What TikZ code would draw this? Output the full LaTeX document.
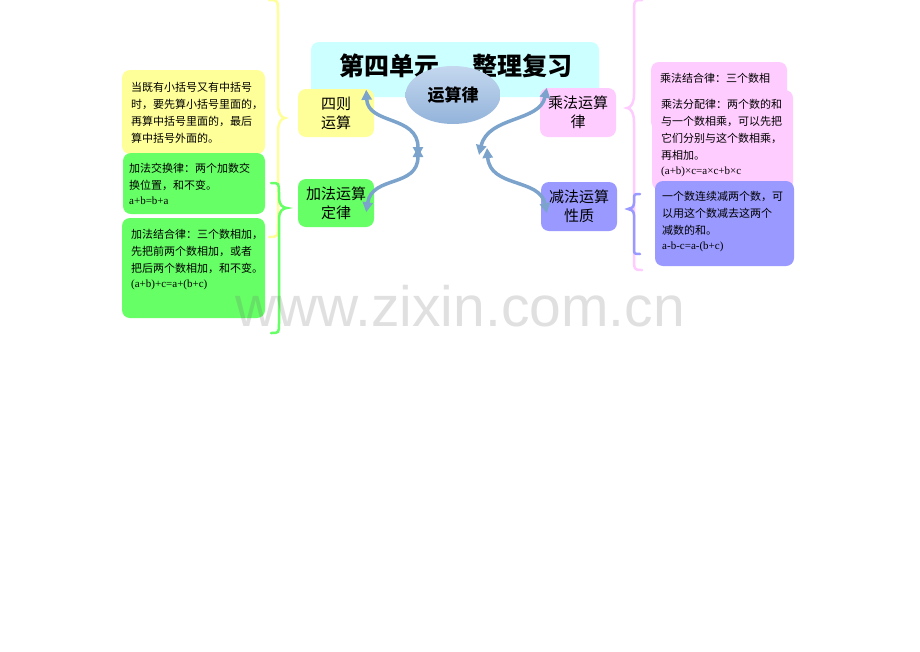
\documentclass[tikz,border=0pt]{standalone}
\usepackage{fontspec}
\setmainfont{Liberation Serif}
\newfontfamily\cjk{Noto Sans CJK SC}
\newfontfamily\wmfont{Liberation Sans}
\usetikzlibrary{arrows.meta,shapes.geometric}
\XeTeXlinebreaklocale "zh"
\XeTeXlinebreakskip=0pt plus 1fil
\definecolor{cyanbox}{HTML}{CCFFFF}
\definecolor{ybox}{HTML}{FFFF99}
\definecolor{gbox}{HTML}{66FF66}
\definecolor{pbox}{HTML}{FFCCFF}
\definecolor{vbox}{HTML}{9999FF}
\definecolor{linkc}{HTML}{7BA3CB}
\definecolor{elltop}{HTML}{C4D8EF}
\definecolor{ellbot}{HTML}{93B3DA}
\newcommand\jnode[5]{\node[txt] (#1) at (#2,#3) {\makebox[#4pt][s]{#5}};}
\newcommand\pnode[4]{\node[txt] (#1) at (#2,#3) {#4};}
\newcommand\lnode[4]{\node[lat] (#1) at (#2,#3) {#4};}
\newcommand\bracepath[8]{%
  \draw[bracestyle,draw=#1] (#2,#5) .. controls (#3,#5) and (#3,#5) .. (#3,{#5+#8})
    -- (#3,{#6-#8}) .. controls (#3,{#6-#8/3}) and ({(#3+#4)/2},#6) .. (#4,#6)
    .. controls ({(#3+#4)/2},#6) and (#3,{#6+#8/3}) .. (#3,{#6+#8})
    -- (#3,{#7-#8}) .. controls (#3,#7) and (#3,#7) .. (#2,#7);}
\tikzset{
  boxstyle/.style={rounded corners=8pt, draw=none, inner sep=0pt},
  head/.style={font=\cjk\fontsize{15}{19}\selectfont, align=center, inner sep=0pt},
  txt/.style={anchor=west, inner sep=0pt, font=\cjk\fontsize{11}{13}\selectfont},
  lat/.style={anchor=west, inner sep=0pt, font=\fontsize{11}{13}\selectfont},
  link/.style={draw=linkc, line width=3.5pt, {Triangle[length=10pt,width=10pt]}-{Triangle[length=10pt,width=10pt]}},
  bracestyle/.style={line width=2.5pt, line cap=round},
}
\begin{document}
\begin{tikzpicture}[x=1pt,y=-1pt]
\useasboundingbox[fill=white] (0,0) rectangle (920,651);
% braces
\bracepath{ybox}{269}{278}{285}{0}{118}{237}{14}
\bracepath{gbox}{271}{279}{287}{183}{208}{333}{10}
\bracepath{pbox}{642}{634}{627}{0}{108}{270}{14}
\bracepath{vbox}{640}{634}{628}{194}{209}{254}{6}
% left text boxes
\node[boxstyle, fill=ybox, minimum width=143pt, minimum height=84pt] (yb) at (193.5,112) {};
\jnode{y1}{131}{87}{126}{当既有小括号又有中括号}
\jnode{y2}{131}{104}{126}{时，要先算小括号里面的，}
\jnode{y3}{131}{121}{126}{再算中括号里面的，最后}
\pnode{y4}{131}{138}{算中括号外面的。}
\node[boxstyle, fill=gbox, minimum width=142pt, minimum height=61pt] (gb1) at (194,183.5) {};
\jnode{g1}{129}{168}{125}{加法交换律：两个加数交}
\pnode{g2}{129}{185}{换位置，和不变。}
\lnode{g3}{129}{201}{a+b=b+a}
\node[boxstyle, fill=gbox, minimum width=143pt, minimum height=100pt] (gb2) at (193.5,268) {};
\jnode{h1}{131}{234}{126}{加法结合律：三个数相加，}
\jnode{h2}{131}{251}{125}{先把前两个数相加，或者}
\jnode{h3}{131}{268}{126}{把后两个数相加，和不变。}
\lnode{h4}{131}{285}{(a+b)+c=a+(b+c)}
% right text boxes
\node[boxstyle, fill=pbox, minimum width=136pt, minimum height=68pt] (pb1) at (719,96) {};
\node[boxstyle, fill=pbox, minimum width=141pt, minimum height=100pt] (pb2) at (722.5,140) {};
\jnode{p1}{660}{78}{118}{乘法结合律：三个数相}
\jnode{q1}{661}{104}{124}{乘法分配律：两个数的和}
\jnode{q2}{661}{121}{124}{与一个数相乘，可以先把}
\jnode{q3}{661}{138}{124}{它们分别与这个数相乘，}
\pnode{q4}{661}{155}{再相加。}
\lnode{q5}{661}{172}{(a+b)×c=a×c+b×c}
\node[boxstyle, fill=vbox, minimum width=139pt, minimum height=85pt] (vb) at (724.5,223.5) {};
\jnode{v1}{662}{196}{125}{一个数连续减两个数，可}
\jnode{v2}{662}{213}{125}{以用这个数减去这两个}
\pnode{v3}{662}{230}{减数的和。}
\lnode{v4}{662}{247}{a-b-c=a-(b+c)}
% title
\node[boxstyle, fill=cyanbox, minimum width=288pt, minimum height=55pt] (title) at (455,69.5) {};
\node[font=\cjk\bfseries\fontsize{25}{25}\selectfont, inner sep=0pt] (t1) at (389,66) {第四单元};
\node[font=\cjk\bfseries\fontsize{25}{25}\selectfont, inner sep=0pt] (t2) at (522,66) {整理复习};
% headers
\node[boxstyle, fill=ybox, minimum width=76pt, minimum height=48pt, head] (sz) at (336,113) {四则\\运算};
\node[boxstyle, fill=gbox, minimum width=76pt, minimum height=48pt, head] (jf) at (336,203) {加法运算\\定律};
\node[boxstyle, fill=pbox, minimum width=76pt, minimum height=49pt, head] (cf) at (578,112.5) {乘法运算\\律};
\node[boxstyle, fill=vbox, minimum width=76pt, minimum height=49pt, head] (jn) at (579,206.5) {减法运算\\性质};
% ellipse
\node[ellipse, top color=elltop, bottom color=ellbot, minimum width=95pt, minimum height=58pt, inner sep=0pt,
      font=\cjk\bfseries\fontsize{17}{17}\selectfont] (ell) at (453,95) {运算律};
% connectors
\coordinate (ml1) at (418,157);
\coordinate (ml2) at (418,147);
\coordinate (mr1) at (479,155);
\coordinate (mr2) at (487,148);
\draw[link] ([xshift=-8pt,yshift=-1pt]sz.north east) .. controls (368,125) and (418,115) .. (ml1);
\draw[link] (ml2) .. controls (418,188) and (372,175) .. ([xshift=-8pt,yshift=15pt]jf.south east);
\draw[link] ([xshift=7pt]cf.north west) .. controls (540,122) and (488,116) .. (mr1);
\draw[link] (mr2) .. controls (490,188) and (540,178) .. ([xshift=6pt,yshift=18pt]jn.south west);
% watermark
\node[font=\wmfont\fontsize{57}{57}\selectfont, text=black!60, opacity=0.2, anchor=base, inner sep=0pt] (wm) at (460,326) {www.zixin.com.cn};
\end{tikzpicture}
\end{document}
